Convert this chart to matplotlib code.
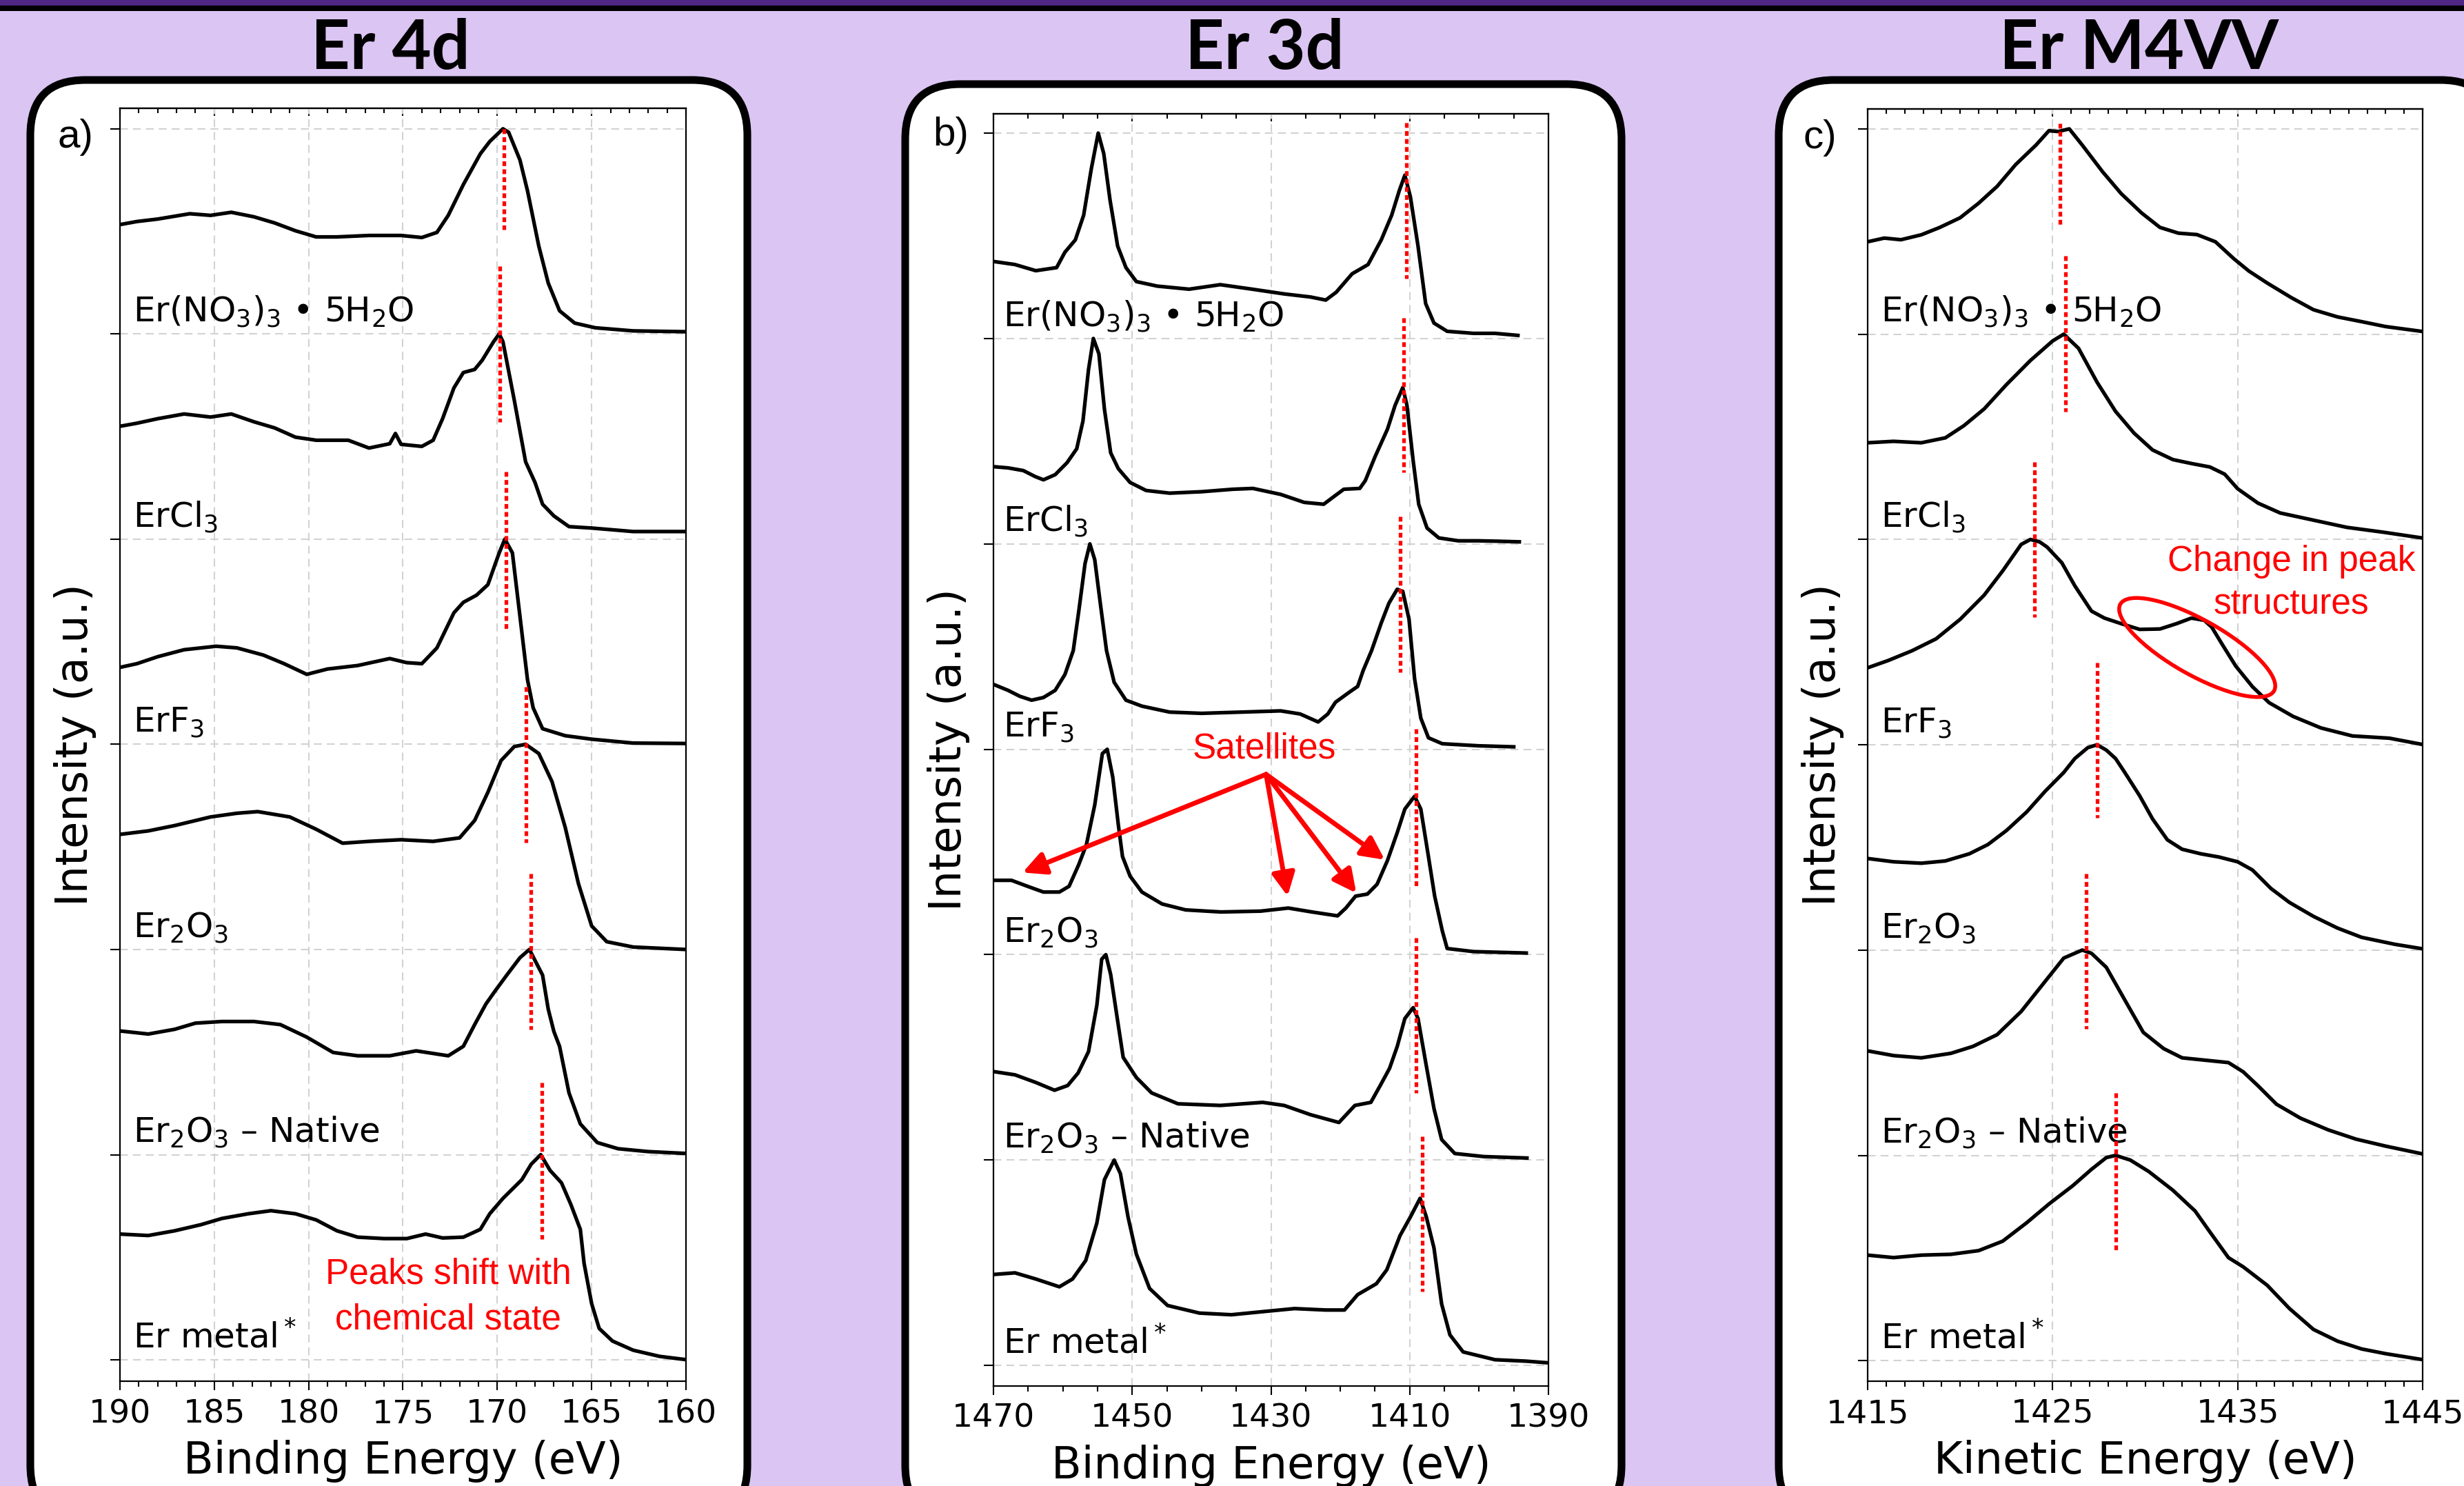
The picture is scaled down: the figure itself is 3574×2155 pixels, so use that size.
import matplotlib
matplotlib.use("Agg")
import matplotlib.pyplot as plt
from matplotlib.patches import FancyBboxPatch, Rectangle, Ellipse, FancyArrowPatch
from matplotlib.ticker import FixedLocator

# %% Data (normalised intensity, 0..1; traces listed top to bottom)
sample_labels = [r"Er(NO$_3$)$_3$ • 5H$_2$O", r"ErCl$_3$", r"ErF$_3$",
                 r"Er$_2$O$_3$", r"Er$_2$O$_3$ – Native", r"Er metal$^*$"]

# Er 4d
er4d_ticks = [190, 185, 180, 175, 170, 165, 160]
er4d_minor = list(range(160, 191))
er4d_nitrate_x = [190.0, 189.1, 188.0, 186.3, 185.2, 184.1, 182.9, 181.8, 180.7, 179.6, 178.5, 176.8, 175.1, 174.0,
                  173.2, 172.6, 171.8, 170.9, 170.4, 169.7, 169.4, 168.8, 168.4, 167.8, 167.3, 166.7, 165.9, 164.8,
                  162.8, 160.0]
er4d_nitrate_y = [0.533, 0.548, 0.560, 0.586, 0.578, 0.593, 0.571, 0.541, 0.503, 0.473, 0.473, 0.480, 0.480, 0.470,
                  0.495, 0.578, 0.728, 0.878, 0.938, 1.000, 0.983, 0.848, 0.698, 0.428, 0.248, 0.113, 0.053, 0.030,
                  0.015, 0.011]
er4d_chloride_x = [190.0, 189.1, 188.0, 186.6, 185.2, 184.1, 182.9, 181.8, 180.7, 179.6, 177.9, 176.8, 175.7, 175.4,
                   175.1, 174.0, 173.4, 172.9, 172.3, 171.8, 171.2, 170.8, 170.2, 169.9, 169.7, 169.1, 168.5, 168.0,
                   167.6, 167.0, 166.2, 165.0, 162.8, 160.0]
er4d_chloride_y = [0.550, 0.565, 0.587, 0.610, 0.595, 0.610, 0.572, 0.542, 0.497, 0.482, 0.482, 0.444, 0.465, 0.515,
                   0.462, 0.452, 0.482, 0.587, 0.737, 0.812, 0.827, 0.872, 0.962, 1.000, 0.962, 0.677, 0.377, 0.276,
                   0.170, 0.113, 0.061, 0.054, 0.037, 0.037]
er4d_fluoride_x = [190.0, 189.1, 188.0, 186.6, 184.9, 183.8, 182.4, 181.3, 180.1, 179.0, 177.4, 175.7, 174.8, 174.0,
                   173.2, 172.3, 171.8, 171.1, 170.5, 169.9, 169.6, 169.2, 168.8, 168.4, 168.1, 167.6, 166.4, 165.0,
                   162.8, 160.0]
er4d_fluoride_y = [0.375, 0.393, 0.427, 0.461, 0.478, 0.470, 0.435, 0.393, 0.341, 0.367, 0.384, 0.418, 0.398, 0.393,
                   0.470, 0.641, 0.692, 0.727, 0.778, 0.933, 1.000, 0.933, 0.624, 0.315, 0.178, 0.076, 0.042, 0.025,
                   0.006, 0.004]
er4d_oxide_x = [190.0, 188.5, 187.1, 185.2, 183.8, 182.7, 181.0, 179.6, 178.2, 176.8, 175.1, 173.4, 172.0, 171.2,
                170.5, 169.8, 169.1, 168.5, 167.8, 167.1, 166.4, 165.7, 165.0, 164.2, 162.8, 160.0]
er4d_oxide_y = [0.561, 0.578, 0.604, 0.646, 0.664, 0.672, 0.646, 0.586, 0.518, 0.527, 0.535, 0.527, 0.544, 0.629,
                0.766, 0.921, 0.989, 1.000, 0.955, 0.818, 0.595, 0.321, 0.115, 0.038, 0.012, 0.000]
er4d_native_x = [190.0, 188.5, 187.1, 186.0, 184.6, 182.9, 181.5, 180.1, 178.7, 177.4, 175.7, 174.3, 172.6, 171.8,
                 171.2, 170.6, 170.1, 169.5, 168.8, 168.3, 167.6, 167.3, 167.0, 166.7, 166.2, 165.6, 164.7, 163.6,
                 162.0, 160.0]
er4d_native_y = [0.603, 0.588, 0.611, 0.641, 0.649, 0.649, 0.634, 0.573, 0.498, 0.482, 0.482, 0.506, 0.482, 0.528,
                 0.634, 0.735, 0.800, 0.875, 0.960, 1.000, 0.875, 0.709, 0.600, 0.528, 0.301, 0.150, 0.059, 0.029,
                 0.015, 0.006]
er4d_metal_x = [190.0, 188.5, 187.1, 185.7, 184.6, 183.2, 182.0, 180.7, 179.6, 178.5, 177.4, 176.0, 174.8, 173.8,
                172.9, 171.8, 170.9, 170.4, 169.7, 168.7, 168.2, 167.7, 167.2, 166.6, 166.1, 165.6, 165.4, 165.0,
                164.6, 163.9, 162.8, 161.4, 160.0]
er4d_metal_y = [0.613, 0.606, 0.629, 0.659, 0.689, 0.712, 0.727, 0.712, 0.682, 0.629, 0.598, 0.591, 0.591, 0.613,
                0.594, 0.598, 0.636, 0.712, 0.787, 0.878, 0.954, 1.000, 0.923, 0.863, 0.757, 0.636, 0.470, 0.274,
                0.153, 0.092, 0.047, 0.017, 0.001]
er4d_mark_x = [169.66, 169.86, 169.52, 168.49, 168.21, 167.65]
er4d_mark_top = [1.00, 1.33, 1.33, 1.28, 1.37, 1.35]
er4d_mark_bottom = [0.51, 0.57, 0.56, 0.52, 0.61, 0.59]

# Er 3d
er3d_ticks = [1470, 1450, 1430, 1410, 1390]
er3d_minor = list(range(1390, 1471, 5))
er3d_nitrate_x = [1470.0, 1466.9, 1463.9, 1460.9, 1459.7, 1458.2, 1457.0, 1455.9, 1454.9, 1454.1, 1453.2, 1452.1,
                  1450.9, 1449.4, 1446.4, 1441.8, 1437.3, 1432.7, 1428.1, 1424.3, 1422.1, 1420.6, 1418.3, 1416.0,
                  1414.1, 1412.6, 1411.5, 1410.7, 1409.9, 1408.8, 1407.7, 1406.5, 1404.6, 1400.8, 1397.7, 1394.4]
er3d_nitrate_y = [0.375, 0.360, 0.330, 0.345, 0.420, 0.480, 0.600, 0.825, 1.000, 0.900, 0.675, 0.450, 0.345, 0.277,
                  0.255, 0.240, 0.262, 0.240, 0.217, 0.202, 0.187, 0.225, 0.315, 0.360, 0.480, 0.600, 0.720, 0.795,
                  0.690, 0.450, 0.170, 0.075, 0.035, 0.025, 0.025, 0.015]
er3d_chloride_x = [1470.0, 1467.9, 1465.7, 1464.0, 1462.8, 1461.1, 1459.4, 1458.0, 1457.1, 1456.3, 1455.6, 1454.8,
                   1454.0, 1453.1, 1452.0, 1450.3, 1448.0, 1444.6, 1440.0, 1435.5, 1432.6, 1428.6, 1425.2, 1422.4,
                   1420.9, 1419.5, 1417.2, 1416.4, 1415.0, 1413.2, 1412.1, 1411.0, 1410.4, 1409.5, 1408.7, 1407.5,
                   1405.8, 1403.0, 1400.1, 1397.3, 1394.2]
er3d_chloride_y = [0.376, 0.370, 0.357, 0.328, 0.312, 0.337, 0.395, 0.463, 0.598, 0.848, 1.000, 0.925, 0.655, 0.443,
                   0.366, 0.299, 0.260, 0.247, 0.254, 0.266, 0.270, 0.241, 0.202, 0.193, 0.231, 0.266, 0.270, 0.308,
                   0.424, 0.559, 0.675, 0.761, 0.675, 0.405, 0.193, 0.077, 0.029, 0.015, 0.015, 0.013, 0.010]
er3d_fluoride_x = [1470.0, 1467.9, 1466.2, 1464.5, 1462.8, 1461.1, 1459.7, 1458.5, 1457.7, 1456.8, 1456.1, 1455.4,
                   1454.6, 1453.7, 1452.6, 1450.9, 1448.6, 1444.6, 1440.0, 1434.3, 1428.6, 1425.8, 1423.2, 1421.8,
                   1420.7, 1418.7, 1417.5, 1416.7, 1415.5, 1414.1, 1413.0, 1411.8, 1411.0, 1410.1, 1409.3, 1408.4,
                   1407.3, 1405.3, 1400.1, 1395.0]
er3d_fluoride_y = [0.316, 0.287, 0.258, 0.239, 0.252, 0.287, 0.364, 0.480, 0.673, 0.904, 1.000, 0.923, 0.711, 0.480,
                   0.326, 0.239, 0.210, 0.181, 0.175, 0.181, 0.187, 0.172, 0.133, 0.172, 0.229, 0.278, 0.306, 0.384,
                   0.480, 0.615, 0.711, 0.779, 0.769, 0.634, 0.345, 0.152, 0.056, 0.027, 0.017, 0.012]
er3d_oxide_x = [1470.0, 1467.4, 1465.1, 1462.8, 1460.5, 1459.1, 1457.7, 1456.6, 1455.4, 1454.3, 1453.6, 1452.8,
                1452.0, 1451.4, 1450.3, 1448.6, 1445.7, 1442.3, 1437.2, 1431.5, 1427.5, 1424.1, 1420.4, 1419.2,
                1417.8, 1416.1, 1414.7, 1413.2, 1411.8, 1410.7, 1409.3, 1408.4, 1407.3, 1406.4, 1405.3, 1404.6,
                1400.8, 1393.2]
er3d_oxide_y = [0.362, 0.362, 0.333, 0.305, 0.305, 0.333, 0.439, 0.536, 0.729, 0.979, 1.000, 0.864, 0.632, 0.478,
                0.382, 0.305, 0.247, 0.218, 0.208, 0.212, 0.227, 0.208, 0.189, 0.227, 0.285, 0.295, 0.343, 0.459,
                0.594, 0.709, 0.771, 0.709, 0.478, 0.285, 0.116, 0.030, 0.015, 0.008]
er3d_native_x = [1470.0, 1466.9, 1463.9, 1461.2, 1459.3, 1457.8, 1456.3, 1455.1, 1454.4, 1453.8, 1453.1, 1452.1,
                 1451.3, 1449.4, 1447.2, 1443.4, 1437.3, 1431.2, 1428.1, 1424.3, 1420.2, 1417.9, 1415.6, 1414.1,
                 1412.9, 1411.8, 1410.7, 1409.5, 1408.8, 1407.7, 1406.5, 1405.4, 1403.5, 1399.3, 1393.1]
er3d_native_y = [0.431, 0.415, 0.378, 0.340, 0.363, 0.424, 0.528, 0.753, 0.978, 1.000, 0.903, 0.678, 0.500, 0.402,
                 0.327, 0.274, 0.266, 0.281, 0.266, 0.221, 0.183, 0.266, 0.281, 0.372, 0.447, 0.553, 0.689, 0.742,
                 0.689, 0.477, 0.251, 0.100, 0.032, 0.017, 0.010]
er3d_metal_x = [1470.0, 1466.9, 1463.9, 1460.5, 1458.6, 1456.7, 1455.1, 1454.0, 1452.6, 1451.7, 1450.6, 1449.4,
                1447.5, 1444.9, 1440.3, 1435.7, 1431.2, 1426.6, 1422.1, 1419.4, 1417.5, 1414.8, 1413.3, 1411.4,
                1409.9, 1408.5, 1407.6, 1406.5, 1405.4, 1404.2, 1402.3, 1397.7, 1393.2, 1390.1]
er3d_metal_y = [0.443, 0.451, 0.421, 0.383, 0.421, 0.511, 0.693, 0.905, 1.000, 0.934, 0.723, 0.542, 0.375, 0.292,
                0.255, 0.247, 0.262, 0.277, 0.270, 0.270, 0.345, 0.398, 0.466, 0.632, 0.723, 0.814, 0.723, 0.572,
                0.300, 0.149, 0.066, 0.028, 0.021, 0.013]
er3d_mark_x = [1410.5, 1410.85, 1411.4, 1409.1, 1409.1, 1408.2]
er3d_mark_top = [1.05, 1.10, 1.135, 1.10, 1.083, 1.116]
er3d_mark_bottom = [0.29, 0.347, 0.374, 0.333, 0.327, 0.360]

# Er M4VV
m4vv_ticks = [1415, 1425, 1435, 1445]
m4vv_minor = list(range(1415, 1446))
m4vv_nitrate_x = [1415.0, 1415.9, 1416.8, 1417.9, 1418.9, 1420.0, 1421.0, 1422.0, 1423.0, 1424.1, 1424.8, 1425.3,
                  1425.9, 1426.6, 1427.7, 1428.7, 1429.8, 1430.8, 1431.8, 1432.8, 1433.8, 1434.8, 1435.6, 1436.6,
                  1437.9, 1439.1, 1440.4, 1441.7, 1443.0, 1444.0, 1445.0]
m4vv_nitrate_y = [0.450, 0.468, 0.460, 0.484, 0.520, 0.567, 0.638, 0.720, 0.826, 0.921, 0.991, 0.987, 1.000, 0.921,
                  0.791, 0.685, 0.591, 0.520, 0.492, 0.485, 0.450, 0.367, 0.308, 0.249, 0.178, 0.119, 0.084, 0.061,
                  0.037, 0.025, 0.013]
m4vv_chloride_x = [1415.0, 1416.4, 1417.9, 1419.2, 1420.2, 1421.3, 1422.5, 1423.8, 1425.0, 1425.6, 1426.4, 1427.4,
                   1428.4, 1429.4, 1430.4, 1431.5, 1432.5, 1433.5, 1434.3, 1435.0, 1436.1, 1437.3, 1439.1, 1440.9,
                   1442.9, 1445.0]
m4vv_chloride_y = [0.471, 0.478, 0.471, 0.495, 0.554, 0.636, 0.754, 0.872, 0.967, 1.000, 0.931, 0.766, 0.624, 0.518,
                   0.436, 0.389, 0.370, 0.353, 0.318, 0.247, 0.177, 0.129, 0.094, 0.059, 0.035, 0.007]
m4vv_fluoride_x = [1415.0, 1416.1, 1417.4, 1418.7, 1420.0, 1421.3, 1422.3, 1423.3, 1423.8, 1424.3, 1424.7, 1425.5,
                   1426.2, 1427.1, 1427.8, 1428.7, 1429.7, 1430.8, 1431.7, 1432.5, 1433.2, 1433.6, 1434.2, 1434.9,
                   1435.8, 1436.7, 1438.0, 1439.5, 1441.2, 1443.2, 1444.9]
m4vv_fluoride_y = [0.375, 0.410, 0.458, 0.516, 0.611, 0.729, 0.847, 0.976, 1.000, 0.988, 0.963, 0.886, 0.774, 0.651,
                   0.617, 0.590, 0.562, 0.564, 0.590, 0.617, 0.606, 0.573, 0.484, 0.383, 0.283, 0.205, 0.138, 0.082,
                   0.043, 0.032, 0.003]
m4vv_oxide_x = [1415.0, 1416.4, 1417.9, 1419.2, 1420.5, 1421.5, 1422.5, 1423.6, 1424.6, 1425.6, 1426.2, 1426.9,
                1427.4, 1427.9, 1428.4, 1428.9, 1429.7, 1430.4, 1431.2, 1432.0, 1433.0, 1434.0, 1435.0, 1435.8,
                1436.8, 1437.8, 1439.1, 1440.4, 1441.7, 1443.5, 1445.0]
m4vv_oxide_y = [0.446, 0.430, 0.423, 0.434, 0.469, 0.514, 0.582, 0.673, 0.774, 0.865, 0.933, 0.986, 1.000, 0.974,
                0.933, 0.865, 0.752, 0.639, 0.537, 0.491, 0.469, 0.453, 0.430, 0.390, 0.300, 0.232, 0.164, 0.107,
                0.062, 0.028, 0.006]
m4vv_native_x = [1415.0, 1416.4, 1417.9, 1419.5, 1420.7, 1422.0, 1423.3, 1424.6, 1425.6, 1426.6, 1427.1, 1427.9,
                 1428.9, 1429.9, 1431.0, 1432.0, 1433.3, 1434.5, 1435.3, 1436.1, 1437.1, 1438.4, 1439.9, 1441.4,
                 1443.0, 1445.0]
m4vv_native_y = [0.509, 0.486, 0.475, 0.497, 0.531, 0.588, 0.701, 0.848, 0.961, 1.000, 0.984, 0.916, 0.757, 0.599,
                 0.520, 0.475, 0.463, 0.452, 0.407, 0.339, 0.249, 0.181, 0.124, 0.079, 0.045, 0.007]
m4vv_metal_x = [1415.0, 1416.4, 1417.9, 1419.5, 1421.0, 1422.3, 1423.6, 1424.8, 1426.1, 1427.1, 1427.9, 1428.4,
                1429.2, 1430.2, 1431.5, 1432.7, 1433.5, 1434.5, 1435.3, 1436.6, 1437.8, 1439.1, 1440.4, 1441.7,
                1443.0, 1445.0]
m4vv_metal_y = [0.514, 0.502, 0.514, 0.518, 0.536, 0.582, 0.672, 0.763, 0.853, 0.932, 0.989, 1.000, 0.977, 0.921,
                0.830, 0.729, 0.627, 0.502, 0.457, 0.367, 0.254, 0.152, 0.095, 0.057, 0.034, 0.005]
m4vv_mark_x = [1425.4, 1425.7, 1424.0, 1427.4, 1426.8, 1428.4]
m4vv_mark_top = [1.027, 1.383, 1.377, 1.399, 1.372, 1.305]
m4vv_mark_bottom = [0.532, 0.624, 0.622, 0.644, 0.615, 0.532]

# satellite arrows in the Er 3d panel (eV, stacked intensity)
satellite_origin = (1430.7, 2.878)
satellite_tip_x = [1465.8, 1427.6, 1417.7, 1413.6]
satellite_tip_y = [2.400, 2.285, 2.300, 2.462]

# %% Style
LAVENDER = "#DBC5F3"
DARK_PURPLE = "#4F2683"
W, H = 3574, 2155
NOTE_FONT = "Liberation Sans"

fig = plt.figure(figsize=(W / 100, H / 100), dpi=100, facecolor=LAVENDER)


def rect_px(left, top, right, bottom):
    return [left / W, 1 - bottom / H, (right - left) / W, (bottom - top) / H]


# banner at the top
fig.add_artist(Rectangle((0, 1 - 8 / H), 1, 8 / H, transform=fig.transFigure, color=DARK_PURPLE, lw=0))
fig.add_artist(Rectangle((0, 1 - 16 / H), 1, 8 / H, transform=fig.transFigure, color="black", lw=0))

# rounded white frames (inches, so corners stay round)
for left, top, right in [(44, 116, 1084), (1313, 122, 2352), (2580, 116, 3620)]:
    box = FancyBboxPatch((left / 100, (H - 2205) / 100), (right - left) / 100, (2205 - top) / 100,
                         boxstyle="round,pad=0,rounding_size=0.8", transform=fig.dpi_scale_trans,
                         facecolor="white", edgecolor="black", linewidth=8, zorder=-1)
    fig.add_artist(box)

for cx, title in [(566, "Er 4d"), (1834, "Er 3d"), (3103, "Er M4VV")]:
    fig.text(cx / W, 1 - 100 / H, title, ha="center", va="baseline", fontsize=71,
             fontweight="bold", family=["Lato", "DejaVu Sans"])


def draw_panel(rect, xs, ys, mark_x, mark_top, mark_bottom, xlim, ylim, ticks, minor, xlabel, label_x):
    ax = fig.add_axes(rect)
    ax.set_facecolor("white")
    n = len(xs)
    for i in range(n):
        off = n - 1 - i
        ax.plot(xs[i], [v + off for v in ys[i]], color="black", lw=3.8, zorder=3,
                solid_joinstyle="round")
        ax.text(label_x, off + 0.06, sample_labels[i], fontsize=36, ha="left", va="baseline", zorder=4)
        ax.plot([mark_x[i], mark_x[i]], [mark_top[i] + off, mark_bottom[i] + off], color="red",
                lw=3.8, linestyle=(0, (1.3, 0.9)), zorder=5)
    ax.set_xlim(xlim)
    ax.set_ylim(ylim)
    ax.xaxis.set_major_locator(FixedLocator(ticks))
    ax.xaxis.set_minor_locator(FixedLocator(minor))
    ax.set_yticks(range(n + 1))
    ax.set_yticklabels([])
    ax.grid(True, which="major", color="#d2d2d2", linestyle=(0, (5.5, 3.5)), linewidth=1.5, zorder=0)
    ax.tick_params(axis="x", which="major", length=9, width=1.5, pad=9, labelsize=34)
    ax.tick_params(axis="x", which="minor", length=5.5, width=1.5)
    ax.tick_params(axis="y", which="major", length=10, width=1.5)
    for sp in ax.spines.values():
        sp.set_linewidth(1.6)
    sec = ax.secondary_xaxis("top")
    sec.xaxis.set_major_locator(FixedLocator(ticks))
    sec.xaxis.set_minor_locator(FixedLocator(minor))
    sec.tick_params(which="both", direction="in", labeltop=False, width=1.5)
    sec.tick_params(which="major", length=8)
    sec.tick_params(which="minor", length=5)
    sec.spines["top"].set_linewidth(1.6)
    ax.set_xlabel(xlabel, fontsize=46, labelpad=11)
    ax.set_ylabel("Intensity (a.u.)", fontsize=46, labelpad=11)
    return ax


ax_a = draw_panel(rect_px(174, 157, 995, 2003),
                  [er4d_nitrate_x, er4d_chloride_x, er4d_fluoride_x, er4d_oxide_x, er4d_native_x, er4d_metal_x],
                  [er4d_nitrate_y, er4d_chloride_y, er4d_fluoride_y, er4d_oxide_y, er4d_native_y, er4d_metal_y],
                  er4d_mark_x, er4d_mark_top, er4d_mark_bottom,
                  (190, 160), (-0.104, 6.10), er4d_ticks, er4d_minor, "Binding Energy (eV)", 189.3)
ax_b = draw_panel(rect_px(1441, 165, 2246, 2010),
                  [er3d_nitrate_x, er3d_chloride_x, er3d_fluoride_x, er3d_oxide_x, er3d_native_x, er3d_metal_x],
                  [er3d_nitrate_y, er3d_chloride_y, er3d_fluoride_y, er3d_oxide_y, er3d_native_y, er3d_metal_y],
                  er3d_mark_x, er3d_mark_top, er3d_mark_bottom,
                  (1470, 1390), (-0.10, 6.094), er3d_ticks, er3d_minor, "Binding Energy (eV)", 1468.6)
ax_c = draw_panel(rect_px(2709, 158, 3514, 2003),
                  [m4vv_nitrate_x, m4vv_chloride_x, m4vv_fluoride_x, m4vv_oxide_x, m4vv_native_x, m4vv_metal_x],
                  [m4vv_nitrate_y, m4vv_chloride_y, m4vv_fluoride_y, m4vv_oxide_y, m4vv_native_y, m4vv_metal_y],
                  m4vv_mark_x, m4vv_mark_top, m4vv_mark_bottom,
                  (1415, 1445), (-0.10, 6.097), m4vv_ticks, m4vv_minor, "Kinetic Energy (eV)", 1415.7)

# panel letters
for x0, yc, letter in [(84, 199, "a)"), (1353, 196, "b)"), (2616, 200, "c)")]:
    fig.text(x0 / W, 1 - yc / H, letter, ha="left", va="center", fontsize=42, family=NOTE_FONT)

# annotations
ax_a.text(172.6, 0.373, "Peaks shift with", color="red", fontsize=37, family=NOTE_FONT,
          ha="center", va="baseline", zorder=6)
ax_a.text(172.6, 0.151, "chemical state", color="red", fontsize=37, family=NOTE_FONT,
          ha="center", va="baseline", zorder=6)

ax_b.text(1431.0, 2.956, "Satellites", color="red", fontsize=37, family=NOTE_FONT,
          ha="center", va="baseline", zorder=6)
for tx, ty in zip(satellite_tip_x, satellite_tip_y):
    arr = FancyArrowPatch(satellite_origin, (tx, ty), arrowstyle="-|>", mutation_scale=50,
                          color="red", lw=5, shrinkA=0, shrinkB=0, zorder=6)
    ax_b.add_patch(arr)

ax_c.text(1437.9, 3.847, "Change in peak", color="red", fontsize=37, family=NOTE_FONT,
          ha="center", va="baseline", zorder=6)
ax_c.text(1437.9, 3.635, "structures", color="red", fontsize=37, family=NOTE_FONT,
          ha="center", va="baseline", zorder=6)
fig.add_artist(Ellipse((31.87, (H - 939) / 100), 2.56, 0.80, angle=-29.4, transform=fig.dpi_scale_trans,
                       fill=False, edgecolor="red", linewidth=4, zorder=6))

fig.savefig("out.png", dpi=100, facecolor=LAVENDER)
